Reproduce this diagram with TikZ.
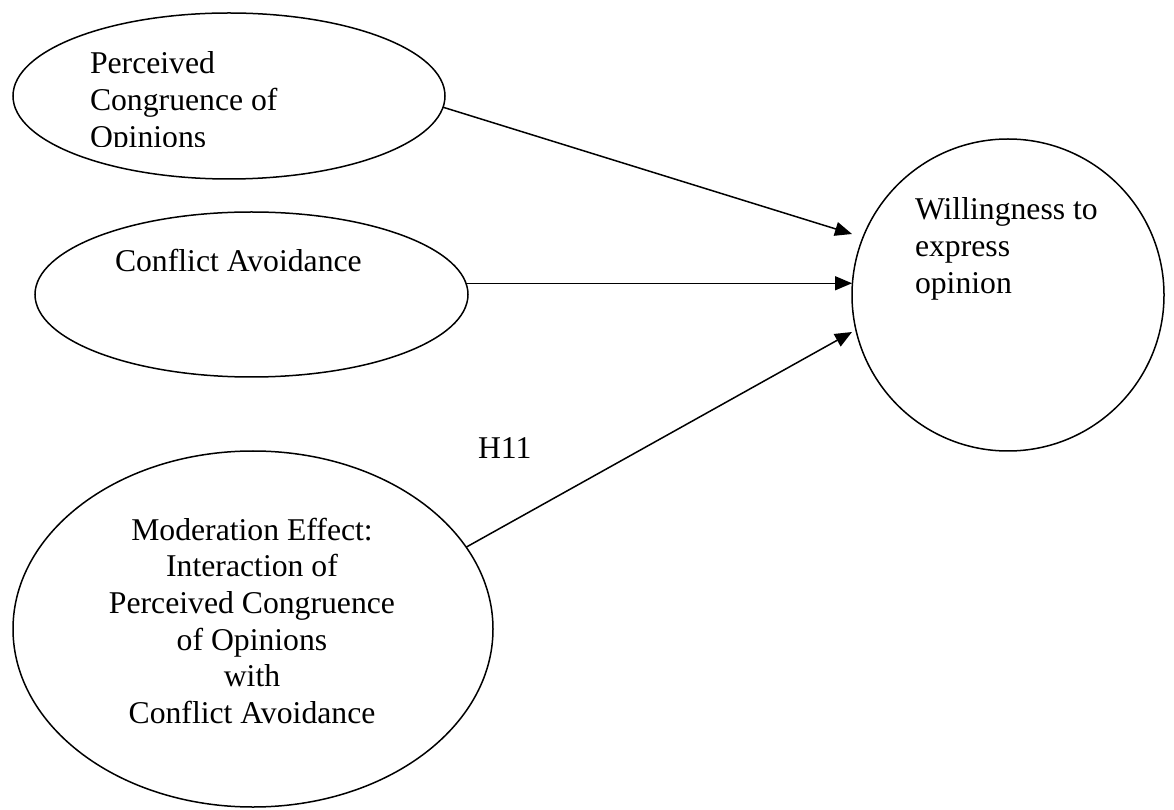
\documentclass[tikz,border=0pt]{standalone}
\usepackage{fontspec}
\setmainfont{Liberation Serif}
\usetikzlibrary{shapes.geometric,arrows.meta,calc}
\begin{document}
\begin{tikzpicture}[x=1pt,y=1pt,
  oval/.style={draw,ellipse,line width=1.5pt,inner sep=0pt,outer sep=0pt},
  txt/.style={inner sep=0pt,outer sep=0pt,font=\fontsize{31.7}{36.7}\selectfont},
  arr/.style={line width=1.5pt,-{Triangle[length=17pt,width=14pt]}}]
\useasboundingbox (0,0) rectangle (1174,809);
% shapes
\node[oval,minimum width=432,minimum height=166] (pc) at (229,713) {};
\node[oval,minimum width=433,minimum height=165] (ca) at (251.5,514.5) {};
\node[oval,minimum width=480,minimum height=356] (me) at (253,180) {};
\node[draw,circle,line width=1.5pt,inner sep=0pt,outer sep=0pt,minimum size=312] (w) at (1008,514) {};
% texts
\begin{scope}
\clip (0,662) rectangle (1174,809);
\node[txt,anchor=base west] (pct) at (90,735) {\begin{tabular}[t]{@{}l@{}}Perceived\\Congruence of\\Opinions\end{tabular}};
\end{scope}
\node[txt,anchor=base west] (cat) at (115,537) {Conflict Avoidance};
\node[txt,anchor=base west] (wt) at (915,589) {\begin{tabular}[t]{@{}l@{}}Willingness to\\express\\opinion\end{tabular}};
\node[txt,anchor=base] (met) at (252,269) {\begin{tabular}[t]{@{}c@{}}Moderation Effect:\\Interaction of\\Perceived Congruence\\of Opinions\\with\\Conflict Avoidance\end{tabular}};
\node[txt,anchor=base west] (h11) at (478,350) {H11};
% connectors
\draw[arr] (pc.-3) -- ($(w.west)+(0,61)$);
\draw[arr] (ca.3.3) -- (ca.3.3 -| w.west);
\draw[arr] (me.21) -- ($(w.west)+(0,-37)$);
\end{tikzpicture}
\end{document}
